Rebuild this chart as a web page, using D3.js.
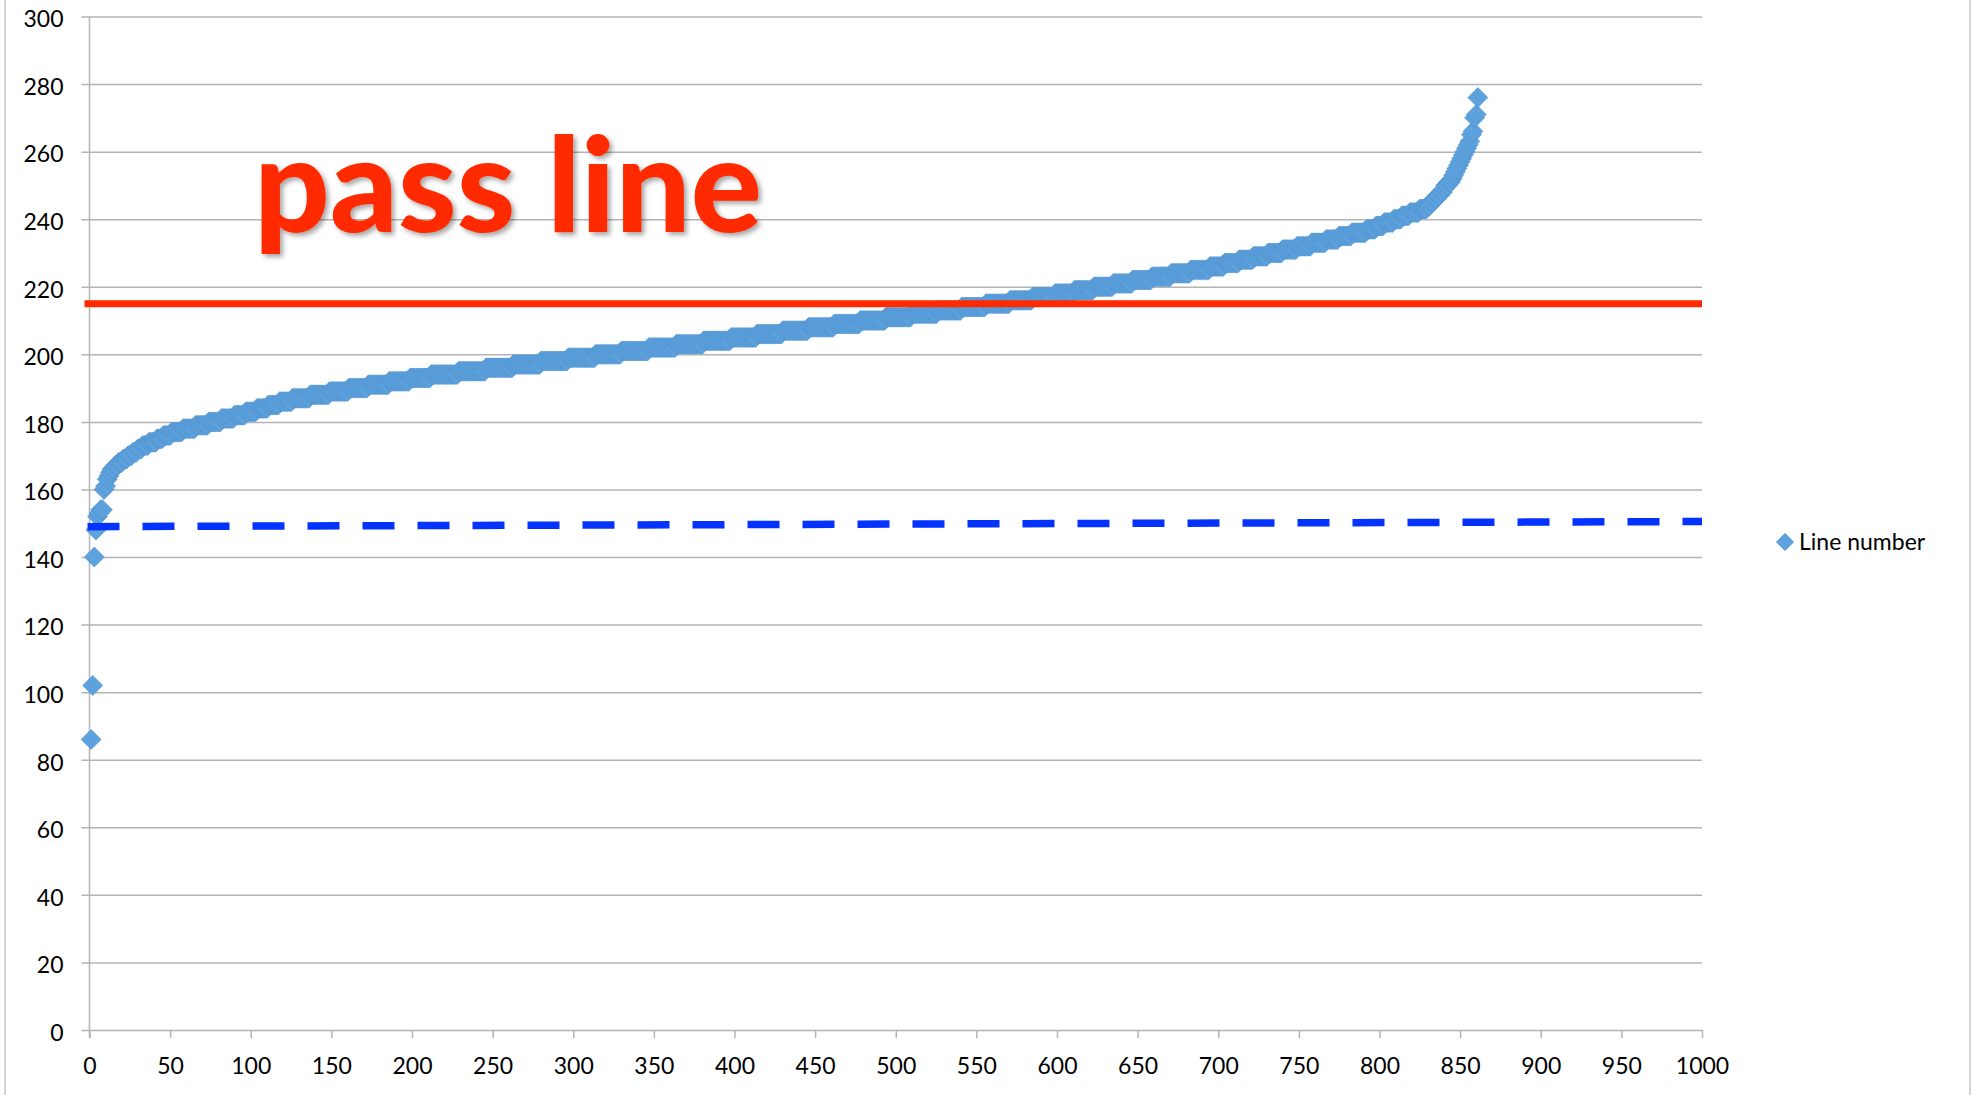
<!DOCTYPE html>
<html>
<head>
<meta charset="utf-8">
<script src="https://cdnjs.cloudflare.com/ajax/libs/d3/7.8.5/d3.min.js"></script>
<style>
  body { margin: 0; background: #fff; }
  svg { display: block; }
</style>
</head>
<body>
<div id="chart"></div>
<script>
// sorted scores as (score, how many lines have it)
var scores = [86, 102, 140, 148, 152, 153, 154, 160, 161, 163, 164, 165, 166, 167, 168,
  169, 170, 171, 172, 173, 174, 175, 176, 177, 178, 179, 180, 181,
  182, 183, 184, 185, 186, 187, 188, 189, 190, 191, 192, 193,
  194, 195, 196, 197, 198, 199, 200, 201, 202, 203, 204,
  205, 206, 207, 208, 209, 210, 211, 212, 213, 214, 215, 216, 217,
  218, 219, 220, 221, 222, 223, 224, 225,
  226, 227, 228, 229, 230, 231, 232, 233, 234, 235, 236,
  237, 238, 239, 240, 241, 242, 243,
  244, 245, 246, 247, 248, 249, 250, 251, 252,
  253, 254, 255, 256, 257, 258, 259, 260, 261, 262, 263, 265, 266, 270, 271, 276];
var counts = [1, 1, 1, 1, 1, 1, 2, 1, 1, 1, 1, 1, 2, 2, 3,
  3, 3, 3, 3, 4, 5, 4, 5, 7, 8, 8, 8, 8,
  7, 7, 7, 7, 8, 11, 12, 12, 12, 13, 13, 13,
  17, 17, 17, 17, 17, 17, 16, 17, 17, 17, 17,
  16, 16, 16, 16, 16, 16, 16, 16, 15, 15, 15, 14, 14,
  12, 12, 12, 12, 12, 12, 12, 12,
  9, 9, 9, 9, 9, 9, 9, 9, 8, 8, 9,
  6, 5, 6, 5, 5, 6, 5,
  2, 2, 2, 2, 2, 1, 2, 2, 1,
  1, 1, 1, 1, 1, 1, 1, 1, 1, 1, 1, 1, 1, 1, 1, 1];

var passLine = 215;
var trendX = [0, 1000];
var trendY = [149, 150.5];

var xTicks = d3.range(0, 1001, 50);
var yTicks = d3.range(0, 301, 20);
var seriesName = "Line number";
var titleText = "pass line";

// expand (score, count) into one point per line, in rank order
var points = [];
scores.forEach(function(s, i) {
    for (var k = 0; k < counts[i]; k++) points.push({ n: points.length + 1, v: s });
});

var W = 1973, H = 1095;
var margin = { top: 16.5, left: 89.5, right: 271, bottom: 65 };
var width = W - margin.left - margin.right,
    height = H - margin.top - margin.bottom;

var x = d3.scaleLinear().domain([0, 1000]).range([0, width]);
var y = d3.scaleLinear().domain([0, 300]).range([height, 0]);

var svg = d3.select("#chart").append("svg")
    .attr("width", W).attr("height", H)
    .style("background", "#fff");

var defs = svg.append("defs");
var f = defs.append("filter").attr("id", "shadow")
    .attr("x", "-10%").attr("y", "-10%").attr("width", "130%").attr("height", "140%");
f.append("feDropShadow").attr("dx", 3).attr("dy", 3).attr("stdDeviation", 2.5)
    .attr("flood-color", "#000").attr("flood-opacity", 0.35);

// frame edges
svg.append("line").attr("x1", 5).attr("x2", 5).attr("y1", 0).attr("y2", H)
    .style("stroke", "#c4c4c4").style("stroke-width", 1.5);
svg.append("line").attr("x1", 1970).attr("x2", 1970).attr("y1", 0).attr("y2", H)
    .style("stroke", "#c4c4c4").style("stroke-width", 1.5);

var g = svg.append("g")
    .attr("transform", "translate(" + margin.left + "," + margin.top + ")");

var font = "Lato, 'Open Sans', sans-serif";

// y axis with gridlines
var yAxis = g.append("g")
    .call(d3.axisLeft(y).tickValues(yTicks).tickSize(-width).tickPadding(26));
yAxis.select(".domain").remove();
yAxis.selectAll("line").attr("x1", -8)
    .style("stroke", "#b4b4b4").style("stroke-width", 1.5);
yAxis.selectAll("text")
    .attr("dy", "0.45em")
    .style("font-family", font).style("font-size", "23px").style("fill", "#000");

// x axis
var xAxis = g.append("g")
    .attr("transform", "translate(0," + height + ")")
    .call(d3.axisBottom(x).tickValues(xTicks).tickFormat(d3.format("d"))
        .tickSize(8).tickPadding(20));
xAxis.select(".domain").remove();
xAxis.selectAll("line").style("stroke", "#b4b4b4").style("stroke-width", 1.5);
xAxis.selectAll("text")
    .style("font-family", font).style("font-size", "23px").style("fill", "#000");

// vertical axis line
g.append("line")
    .attr("x1", x(0)).attr("x2", x(0))
    .attr("y1", y(300)).attr("y2", height + 8)
    .style("stroke", "#b4b4b4").style("stroke-width", 1.5);

// diamonds
var diamond = d3.symbol().type(d3.symbolSquare).size(200);
g.append("g").selectAll("path").data(points).enter().append("path")
    .attr("d", diamond)
    .attr("transform", function(d) {
        return "translate(" + x(d.n) + "," + y(d.v) + ") rotate(45)";
    })
    .style("fill", "#5ea2dd")
    .style("stroke", "#4f92cf")
    .style("stroke-width", 0.6);

// dashed blue trend line
g.append("line")
    .attr("x1", x(trendX[0]) - 2).attr("x2", x(trendX[1]))
    .attr("y1", y(trendY[0])).attr("y2", y(trendY[1]))
    .style("stroke", "#0433ff").style("stroke-width", 7.5)
    .style("stroke-dasharray", "32,23");

// red pass line
g.append("line")
    .attr("x1", x(0) - 5).attr("x2", x(1000))
    .attr("y1", y(passLine)).attr("y2", y(passLine))
    .style("stroke", "#ff2a00").style("stroke-width", 7);

// title
svg.append("text")
    .attr("x", 254).attr("y", 232)
    .attr("textLength", 508).attr("lengthAdjust", "spacingAndGlyphs")
    .attr("filter", "url(#shadow)")
    .style("font-family", font).style("font-weight", 900)
    .style("font-size", "132px").style("fill", "#ff2a00")
    .text(titleText);

// legend
var leg = svg.append("g").attr("transform", "translate(1785,542)");
leg.append("path").attr("d", d3.symbol().type(d3.symbolSquare).size(150)).attr("transform", "rotate(45)")
    .style("fill", "#5ea2dd").style("stroke", "#4f92cf").style("stroke-width", 0.6);
leg.append("text").attr("x", 14).attr("y", 8)
    .style("font-family", font).style("font-size", "23px").style("fill", "#000")
    .text(seriesName);
</script>
</body>
</html>
